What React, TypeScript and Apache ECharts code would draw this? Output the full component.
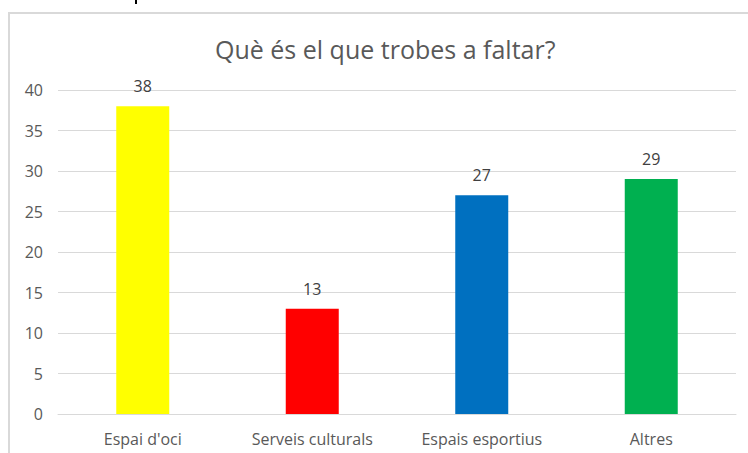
import React, { useEffect, useRef } from "react";
import * as echarts from "echarts";

const categories = ["Espai d'oci", "Serveis culturals", "Espais esportius", "Altres"];
const values = [38, 13, 27, 29];
const colors = ["#FFFF00", "#FF0000", "#0070C0", "#00B050"];
const titleText = "Què és el que trobes a faltar?";

export default function App() {
  const ref = useRef<HTMLDivElement>(null);
  useEffect(() => {
    if (!ref.current) return;
    const chart = echarts.init(ref.current, undefined, { renderer: "svg" });
    const font = "Open Sans";
    chart.setOption({
      animation: false,
      backgroundColor: "#ffffff",
      title: {
        text: titleText,
        left: 210,
        top: 31,
        textStyle: { fontFamily: font, fontSize: 25, fontWeight: "normal", color: "#595959" },
      },
      graphic: [
        {
          type: "rect",
          shape: { x: 9, y: 13, width: 800, height: 500 },
          style: { fill: "none", stroke: "#d9d9d9", lineWidth: 2 },
          silent: true,
        },
        {
          type: "rect",
          shape: { x: 135, y: 0, width: 2, height: 4 },
          style: { fill: "#000000" },
          silent: true,
        },
      ],
      grid: { left: 58, right: 12, top: 90, bottom: 39 },
      xAxis: {
        type: "category",
        data: categories,
        axisTick: { show: false },
        axisLine: { lineStyle: { color: "#d9d9d9" } },
        axisLabel: { fontFamily: font, fontSize: 16, color: "#595959", margin: 17 },
      },
      yAxis: {
        type: "value",
        min: 0,
        max: 40,
        interval: 5,
        axisLine: { show: false },
        axisTick: { show: false },
        splitLine: { lineStyle: { color: "#d9d9d9" } },
        axisLabel: { fontFamily: font, fontSize: 16, color: "#595959", margin: 15 },
      },
      series: [
        {
          type: "bar",
          barWidth: 53,
          data: values.map((v, i) => ({ value: v, itemStyle: { color: colors[i] } })),
          label: {
            show: true,
            position: "top",
            distance: 12,
            fontFamily: font,
            fontSize: 16,
            color: "#404040",
          },
        },
      ],
    });
    return () => chart.dispose();
  }, []);
  return <div ref={ref} style={{ position: "absolute", left: 0, top: 0, width: 748, height: 453 }} />;
}
